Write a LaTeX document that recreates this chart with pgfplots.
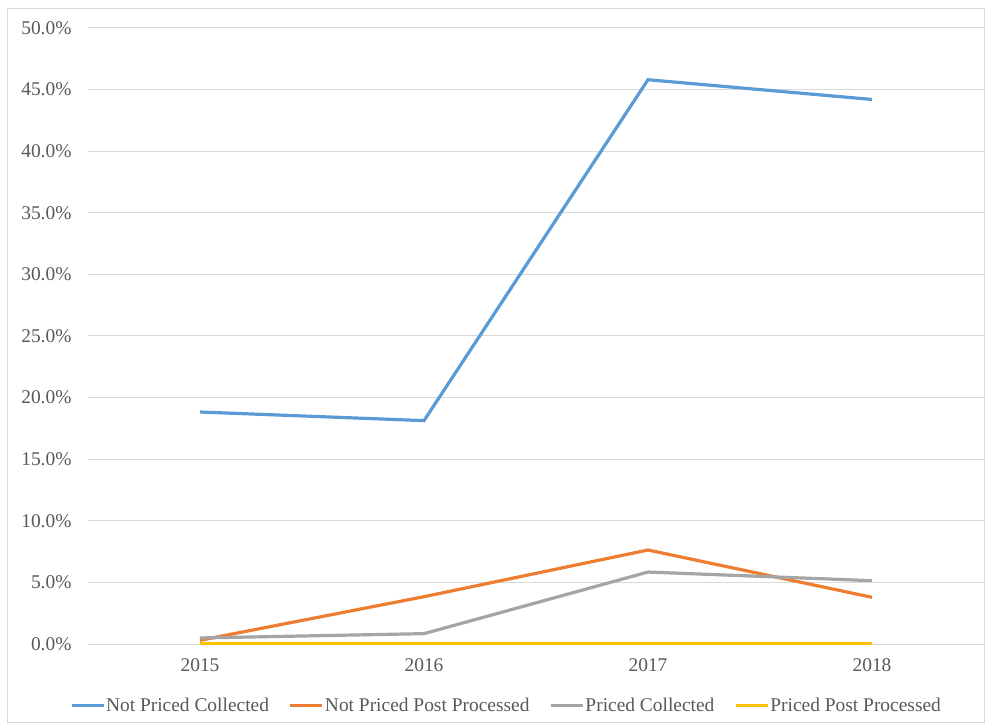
\documentclass[border=0pt]{standalone}
\usepackage{pgfplots}
\pgfplotsset{compat=1.18}
\usepackage{fontspec}
\setmainfont{Liberation Serif}
\definecolor{cBlue}{HTML}{5B9BD5}
\definecolor{cOrange}{HTML}{ED7D31}
\definecolor{cGray}{HTML}{A5A5A5}
\definecolor{cYellow}{HTML}{FFC000}
\definecolor{txt}{HTML}{595959}
\definecolor{gridc}{HTML}{D9D9D9}
\begin{document}
\begin{tikzpicture}
\begin{axis}[
  scale only axis,
  width=896bp, height=616bp,
  xmin=-0.5, xmax=3.5,
  ymin=0, ymax=50,
  xtick={0,1,2,3},
  xticklabels={2015,2016,2017,2018},
  ytick={0,5,...,50},
  yticklabel={\pgfmathprintnumber[fixed,fixed zerofill,precision=1]{\tick}\%},
  /pgf/number format/assume math mode=true,
  axis line style={draw=none},
  major tick length=0pt,
  ymajorgrids=true,
  xmajorgrids=false,
  major grid style={draw=gridc, line width=1bp},
  tick label style={font=\fontsize{19.5}{23}\selectfont, text=txt},
  yticklabel style={xshift=-13bp},
  xticklabel style={yshift=-11.5bp},
  legend columns=4,
  legend style={
    at={(0.4665,-0.1005)}, anchor=center,
    draw=none, fill=none,
    font=\fontsize{19.5}{23}\selectfont, text=txt,
    /tikz/every odd column/.append style={column sep=0bp},
    /tikz/every even column/.append style={column sep=19bp},
    inner sep=0pt,
    nodes={inner xsep=1bp},
  },
  legend image code/.code={\draw[#1, line width=3bp] (0bp,0bp) -- (32bp,0bp);},
  legend cell align=left,
]
\addplot[cBlue, line width=3.2bp] coordinates {(0,18.83) (1,18.13) (2,45.8) (3,44.2)};
\addlegendentry{Not Priced Collected}
\addplot[cOrange, line width=3.2bp] coordinates {(0,0.3) (1,3.84) (2,7.63) (3,3.79)};
\addlegendentry{Not Priced Post Processed}
\addplot[cGray, line width=3.2bp] coordinates {(0,0.49) (1,0.84) (2,5.84) (3,5.14)};
\addlegendentry{Priced Collected}
\addplot[cYellow, line width=3.2bp] coordinates {(0,0) (1,0) (2,0) (3,0)};
\addlegendentry{Priced Post Processed}
\end{axis}
\path[use as bounding box] ([shift={(-88bp,-79bp)}]current axis.south west) rectangle ([shift={(1bp,28bp)}]current axis.north east);
\draw[gridc, line width=1bp] ([shift={(-80bp,-78.5bp)}]current axis.south west) rectangle ([shift={(0.5bp,19bp)}]current axis.north east);
\end{tikzpicture}
\end{document}
